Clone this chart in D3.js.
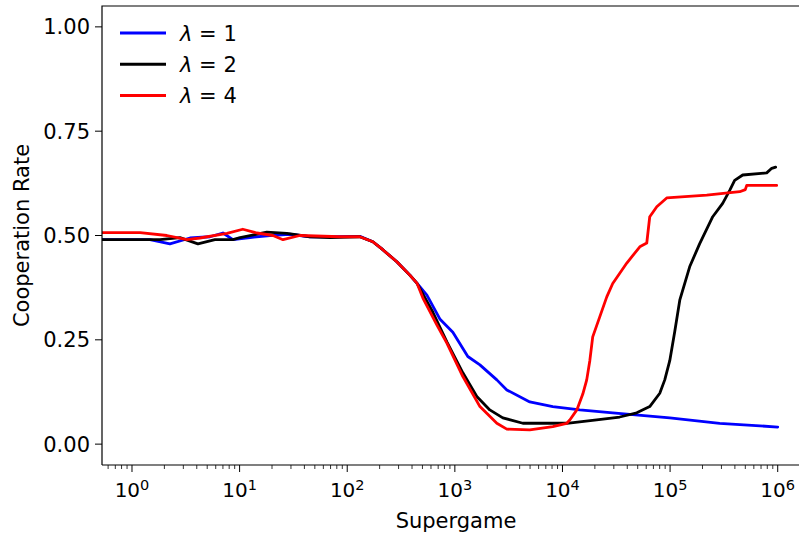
<!DOCTYPE html>
<html>
<head>
<meta charset="utf-8">
<script src="https://cdn.jsdelivr.net/npm/d3@7"></script>
<style>
  body { margin: 0; background: #fff; }
  svg { font-family: "DejaVu Sans", sans-serif; }
</style>
</head>
<body>
<svg id="chart" width="799" height="536"></svg>
<script>
// supergame index (log axis) and cooperation rate
var lambda1X = [0.5, 1.47, 2.25, 3.46, 5.3, 7.0, 8.67, 12.5, 19.1, 29.3, 45, 69, 131, 173, 214, 289, 382, 444, 550, 725, 958, 1320, 1710, 2455, 3040, 4970, 8130, 14500, 29300, 99300, 289000, 1000000];
var lambda1Y = [0.49, 0.49, 0.48, 0.494, 0.497, 0.506, 0.49, 0.495, 0.50, 0.503, 0.497, 0.497, 0.498, 0.485, 0.466, 0.437, 0.405, 0.386, 0.357, 0.30, 0.268, 0.21, 0.19, 0.154, 0.13, 0.101, 0.09, 0.082, 0.075, 0.063, 0.05, 0.041];

var lambda2X = [0.5, 1.82, 2.79, 4.1, 5.9, 8.67, 10.1, 17.9, 27.5, 45, 69, 131, 173, 214, 289, 382, 444, 625, 843, 1187, 1600, 2113, 2790, 4280, 7150, 10960, 20800, 34000, 49000, 64700, 80200, 89200, 99300, 110500, 123000, 152000, 188000, 249000, 308000, 358000, 398000, 473000, 790000, 880000, 957000];
var lambda2Y = [0.49, 0.49, 0.495, 0.48, 0.49, 0.49, 0.495, 0.508, 0.505, 0.497, 0.495, 0.497, 0.485, 0.466, 0.437, 0.405, 0.386, 0.316, 0.245, 0.171, 0.114, 0.082, 0.063, 0.05, 0.05, 0.05, 0.058, 0.065, 0.075, 0.09, 0.122, 0.154, 0.20, 0.27, 0.345, 0.425, 0.48, 0.545, 0.577, 0.608, 0.632, 0.645, 0.65, 0.661, 0.664];

var lambda4X = [0.5, 1.19, 2.11, 3.24, 4.28, 7.63, 10.7, 14.5, 20.4, 25.3, 36.3, 85, 131, 173, 214, 289, 382, 444, 505, 680, 843, 1187, 1710, 2455, 3040, 4970, 8130, 10960, 11700, 13600, 15450, 16800, 17950, 19100, 22200, 25800, 29300, 39600, 52300, 60700, 64700, 75200, 93000, 219000, 444000, 500000, 515000, 978000];
var lambda4Y = [0.507, 0.507, 0.50, 0.49, 0.494, 0.505, 0.515, 0.506, 0.50, 0.49, 0.50, 0.497, 0.497, 0.485, 0.466, 0.437, 0.405, 0.386, 0.35, 0.286, 0.242, 0.162, 0.09, 0.05, 0.036, 0.034, 0.042, 0.05, 0.058, 0.082, 0.12, 0.154, 0.20, 0.257, 0.305, 0.353, 0.385, 0.434, 0.473, 0.482, 0.545, 0.569, 0.59, 0.597, 0.605, 0.61, 0.62, 0.62];

var seriesNames = ['1', '2', '4'];
var seriesColors = ['#0000ff', '#000000', '#ff0000'];
var yTicks = [0, 0.25, 0.5, 0.75, 1.0];
var xTicks = [1, 10, 100, 1000, 10000, 100000, 1000000];

(function() {
  var svg = d3.select('#chart');
  var left = 102, plotTop = 6, bottom = 465, right = 810;

  svg.append('rect').attr('width', 799).attr('height', 536).attr('fill', '#fff');

  var x = d3.scaleLog()
    .domain([Math.pow(10, -30 / 107.67), Math.pow(10, 6.3)])
    .range([left, right]);
  var y = d3.scaleLinear().domain([-0.05, 1.05]).range([bottom, plotTop]);

  svg.append('clipPath').attr('id', 'plot-clip')
    .append('rect').attr('x', left).attr('y', plotTop).attr('width', right - left).attr('height', bottom - plotTop);

  var series = [
    { xs: lambda1X, ys: lambda1Y },
    { xs: lambda2X, ys: lambda2Y },
    { xs: lambda4X, ys: lambda4Y }
  ];

  var line = d3.line()
    .x(function(d) { return x(d[0]); })
    .y(function(d) { return y(d[1]); });

  var plot = svg.append('g').attr('clip-path', 'url(#plot-clip)');
  series.forEach(function(s, i) {
    plot.append('path')
      .attr('d', line(d3.zip(s.xs, s.ys)))
      .attr('fill', 'none')
      .attr('stroke', seriesColors[i])
      .attr('stroke-width', 2.8)
      .attr('stroke-linejoin', 'round')
      .attr('stroke-linecap', 'round');
  });

  // log minor ticks, 2..9 per decade
  var minorTicks = [];
  for (var e = -1; e <= 6; e++) {
    for (var m = 2; m <= 9; m++) {
      var v = m * Math.pow(10, e);
      if (v > x.domain()[0] && v < x.domain()[1]) minorTicks.push(v);
    }
  }

  var xAxis = svg.append('g').attr('transform', 'translate(0,' + bottom + ')');
  xAxis.selectAll('.minor').data(minorTicks).enter().append('line')
    .attr('x1', function(d) { return x(d); }).attr('x2', function(d) { return x(d); })
    .attr('y1', 0).attr('y2', 4).attr('stroke', '#000').attr('stroke-width', 0.8);
  xAxis.selectAll('.major').data(xTicks).enter().append('line')
    .attr('x1', function(d) { return x(d); }).attr('x2', function(d) { return x(d); })
    .attr('y1', 0).attr('y2', 7).attr('stroke', '#000').attr('stroke-width', 1);
  var xLabels = xAxis.selectAll('.xl').data(xTicks).enter().append('text')
    .attr('x', function(d) { return x(d); })
    .attr('y', 32)
    .attr('text-anchor', 'middle')
    .attr('font-size', 20);
  xLabels.append('tspan').text('10');
  xLabels.append('tspan').attr('dy', -7).attr('font-size', 14.5)
    .text(function(d) { return Math.round(Math.log10(d)); });

  var yAxis = svg.append('g');
  yAxis.selectAll('line').data(yTicks).enter().append('line')
    .attr('x1', left - 7).attr('x2', left)
    .attr('y1', function(d) { return y(d); }).attr('y2', function(d) { return y(d); })
    .attr('stroke', '#000').attr('stroke-width', 1);
  yAxis.selectAll('text').data(yTicks).enter().append('text')
    .attr('x', left - 12)
    .attr('y', function(d) { return y(d); })
    .attr('dy', '0.36em')
    .attr('text-anchor', 'end')
    .attr('font-size', 21)
    .text(function(d) { return d.toFixed(2); });

  // frame: left, top and bottom spines (right one is outside the picture)
  svg.append('path')
    .attr('d', 'M' + left + ',' + bottom + 'V' + plotTop + 'H' + right + 'M' + left + ',' + bottom + 'H' + right)
    .attr('fill', 'none').attr('stroke', '#000').attr('stroke-width', 1.2);

  svg.append('text')
    .attr('x', 456).attr('y', 528)
    .attr('text-anchor', 'middle').attr('font-size', 21)
    .text('Supergame');
  svg.append('text')
    .attr('transform', 'translate(29,' + ((plotTop + bottom) / 2) + ') rotate(-90)')
    .attr('text-anchor', 'middle').attr('font-size', 21)
    .text('Cooperation Rate');

  var legend = svg.append('g').attr('transform', 'translate(120,33)');
  seriesNames.forEach(function(name, i) {
    var g = legend.append('g').attr('transform', 'translate(0,' + (i * 31.2) + ')');
    g.append('line').attr('x1', 0).attr('x2', 46).attr('stroke', seriesColors[i]).attr('stroke-width', 3);
    var t = g.append('text').attr('x', 60).attr('dy', '0.36em').attr('font-size', 21);
    t.append('tspan').attr('font-style', 'italic').text('λ');
    t.append('tspan').text(' = ' + name);
  });
})();
</script>
</body>
</html>
